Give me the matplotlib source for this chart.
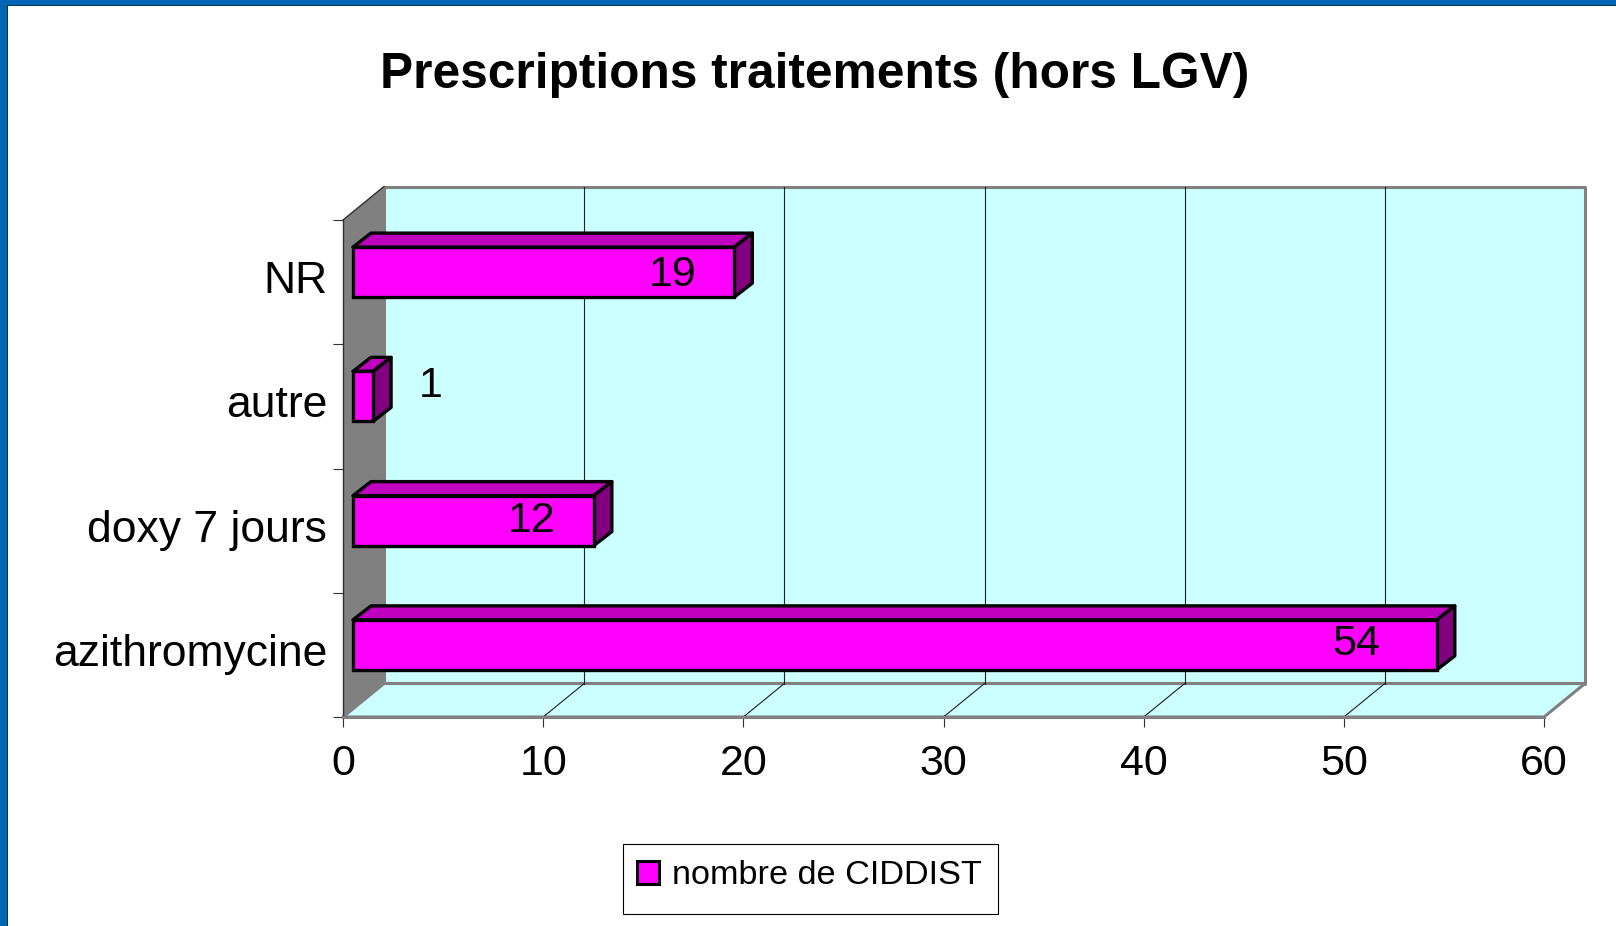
"""Prescriptions traitements: fake-3D horizontal bars, Excel style."""

import matplotlib

matplotlib.use("Agg")
import matplotlib.pyplot as plt
from matplotlib.patches import Patch, Polygon, Rectangle

categories = ["azithromycine", "doxy 7 jours", "autre", "NR"]
values = [54, 12, 1, 19]
x_ticks = [0, 10, 20, 30, 40, 50, 60]
series_name = "nombre de CIDDIST"
title = "Prescriptions traitements (hors LGV)"

W, H = 1616, 926
AX_L, AX_R, AX_T, AX_B = 343, 1544, 220, 717
XMAX = x_ticks[-1]
N = len(categories)
PX_X = XMAX / (AX_R - AX_L)  # data units per pixel
PX_Y = N / (AX_B - AX_T)

plt.rcParams["font.family"] = ["Liberation Sans", "DejaVu Sans"]

fig = plt.figure(figsize=(W / 100, H / 100), dpi=100, facecolor="white")
ax = fig.add_axes([AX_L / W, 1 - AX_B / H, (AX_R - AX_L) / W, (AX_B - AX_T) / H])
ax.set_xlim(0, XMAX)
ax.set_ylim(0, N)
ax.patch.set_visible(False)

# depth of the box and of the bars
dx, dy = 41 * PX_X, 33.5 * PX_Y
bar_dx, bar_dy = 18 * PX_X, 14 * PX_Y
bar_x0, bar_h = 10 * PX_X, 50 * PX_Y
bar_shift = 10 * PX_Y

WALL = "#CCFFFF"
GRAY = "#808080"


def poly(pts, face, edge="none", lw=0.0, z=1):
    ax.add_patch(Polygon(pts, closed=True, facecolor=face, edgecolor=edge,
                         linewidth=lw, zorder=z, clip_on=False, joinstyle="round"))


# back wall, floor, left wall
poly([(dx, dy), (XMAX + dx, dy), (XMAX + dx, N + dy), (dx, N + dy)], WALL, GRAY, 2.2)
poly([(0, 0), (XMAX, 0), (XMAX + dx, dy), (dx, dy)], WALL, GRAY, 2.2)
poly([(0, 0), (dx, dy), (dx, N + dy), (0, N)], GRAY)
ax.plot([0, dx], [N, N + dy], color="#303030", lw=1, zorder=2, clip_on=False)

for t in x_ticks[1:-1]:
    ax.plot([t + dx, t + dx], [dy, N + dy], color="#202020", lw=0.8, zorder=2, clip_on=False)
    ax.plot([t, t + dx], [0, dy], color="#202020", lw=0.8, zorder=2, clip_on=False)

# bars
for i, v in enumerate(values):
    x0 = bar_x0
    x1 = bar_x0 + v * 20.07 * PX_X
    y0 = i + 0.5 - bar_h / 2 + bar_shift
    y1 = y0 + bar_h
    poly([(x0, y1), (x1, y1), (x1 + bar_dx, y1 + bar_dy), (x0 + bar_dx, y1 + bar_dy)],
         "#BF00BF", "black", 2.4, 5)
    poly([(x1, y0), (x1 + bar_dx, y0 + bar_dy), (x1 + bar_dx, y1 + bar_dy), (x1, y1)],
         "#800080", "black", 2.4, 5)
    ax.add_patch(Rectangle((x0, y0), x1 - x0, bar_h, facecolor="#FF00FF",
                           edgecolor="black", linewidth=2.4, zorder=6, clip_on=False,
                           joinstyle="miter"))

# value labels: pixel offsets from the bar end / bar centre
label_offsets = {0: (-81, 1), 1: (-62, 0), 2: (58, 10), 3: (-62, -3)}
for i, v in enumerate(values):
    ox, oy = label_offsets[i]
    ax.annotate(str(v), (bar_x0 + v * 20.07 * PX_X, i + 0.5 + bar_shift),
                xytext=(ox * 0.72, oy * 0.72), textcoords="offset points",
                ha="center", va="center", fontsize=31, color="black", zorder=7)

# axes
for side in ("top", "right"):
    ax.spines[side].set_visible(False)
ax.spines["left"].set_color("#303030")
ax.spines["left"].set_linewidth(1)
ax.spines["bottom"].set_color(GRAY)
ax.spines["bottom"].set_linewidth(2.2)
ax.spines["left"].set_zorder(3)
ax.spines["bottom"].set_zorder(3)

ax.set_xticks(x_ticks)
ax.tick_params(axis="x", length=7.5, width=0.8, color="#303030", pad=12, labelsize=31)
ax.set_yticks(range(N + 1))
ax.set_yticklabels([])
ax.tick_params(axis="y", which="major", length=7.5, width=0.8, color="#303030")
ax.set_yticks([i + 0.5 + 5 * PX_Y for i in range(N)], minor=True)
ax.set_yticklabels(categories, minor=True, fontsize=32)
ax.tick_params(axis="y", which="minor", length=0, pad=11.5)

fig.text(815 / W, 1 - 75 / H, title, ha="center", va="center",
         fontsize=35.75, fontweight="bold", color="black")

# legend frame is drawn on its own: the box is taller than the text needs
fig.add_artist(Rectangle((623 / W, 1 - 914 / H), 375 / W, 70 / H, transform=fig.transFigure,
                         facecolor="white", edgecolor="black", linewidth=0.8))
fig.legend(handles=[Patch(facecolor="#FF00FF", edgecolor="black", linewidth=2.2,
                          label=series_name)],
           loc="center", bbox_to_anchor=(809.6 / W, 1 - 876 / H),
           fontsize=24.7, frameon=False,
           handlelength=0.62, handleheight=0.62, handletextpad=0.39,
           borderpad=0.42, borderaxespad=0)

# slide frame
fig.add_artist(Rectangle((0, 0), 7 / W, 1, transform=fig.transFigure,
                         facecolor="#0066B3", edgecolor="none"))
fig.add_artist(Rectangle((0, 1 - 5 / H), 1, 5 / H, transform=fig.transFigure,
                         facecolor="#0066B3", edgecolor="none"))
fig.add_artist(Rectangle((7 / W, 0), 1 / W, 1 - 5 / H, transform=fig.transFigure,
                         facecolor="#10304A", edgecolor="none"))
fig.add_artist(Rectangle((7 / W, 1 - 6 / H), 1 - 7 / W, 1 / H, transform=fig.transFigure,
                         facecolor="#10304A", edgecolor="none"))

fig.savefig("out.png", dpi=100)
